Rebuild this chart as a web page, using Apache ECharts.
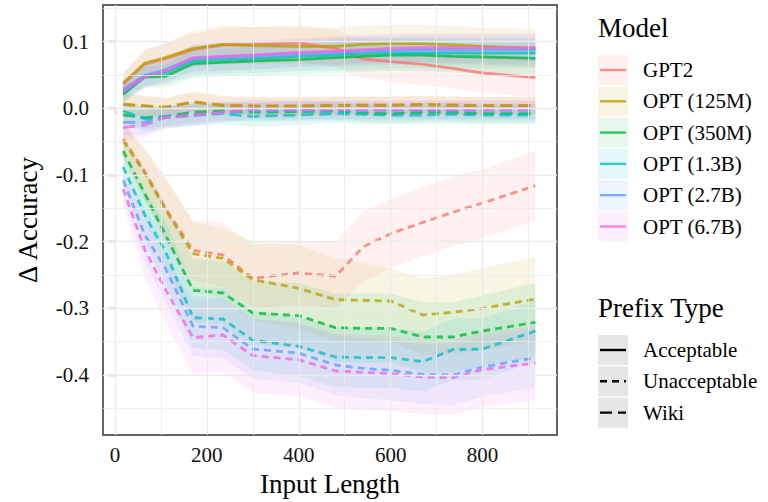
<!DOCTYPE html>
<html>
<head>
<meta charset="utf-8">
<script src="https://cdn.jsdelivr.net/npm/echarts@6/dist/echarts.min.js"></script>
<style>
html,body{margin:0;padding:0;background:#fff;}
#chart{width:768px;height:502px;}
</style>
</head>
<body>
<div id="chart"></div>
<script>
// ---------- data ----------
const inputLength = [18, 65, 110, 170, 235, 300, 400, 480, 540, 600, 670, 735, 800, 915];
const models = ['GPT2', 'OPT (125M)', 'OPT (350M)', 'OPT (1.3B)', 'OPT (2.7B)', 'OPT (6.7B)'];
const prefixTypes = ['Acceptable', 'Unacceptable', 'Wiki'];
const xTicks = [0, 200, 400, 600, 800];
const yTicks = [-0.4, -0.3, -0.2, -0.1, 0.0, 0.1];
const xMinor = [100, 300, 500, 700, 900];
const yMinor = [0.15, 0.05, -0.05, -0.15, -0.25, -0.35, -0.45];

// Acceptable
const accGPT2   = [0.036, 0.066, 0.074, 0.088, 0.095, 0.096, 0.098, 0.090, 0.074, 0.070, 0.066, 0.060, 0.053, 0.046];
const acc125M   = [0.038, 0.068, 0.076, 0.090, 0.096, 0.094, 0.093, 0.093, 0.096, 0.097, 0.097, 0.095, 0.093, 0.090];
const acc350M   = [0.021, 0.047, 0.048, 0.067, 0.069, 0.071, 0.073, 0.076, 0.078, 0.080, 0.080, 0.078, 0.077, 0.075];
const acc1_3B   = [0.024, 0.049, 0.053, 0.071, 0.073, 0.075, 0.078, 0.080, 0.082, 0.083, 0.083, 0.083, 0.083, 0.083];
const acc2_7B   = [0.029, 0.049, 0.058, 0.075, 0.077, 0.079, 0.082, 0.084, 0.086, 0.087, 0.088, 0.088, 0.088, 0.088];
const acc6_7B   = [0.026, 0.047, 0.056, 0.076, 0.078, 0.080, 0.084, 0.086, 0.088, 0.090, 0.091, 0.091, 0.091, 0.091];
const accGPT2Lo = [0.020, 0.045, 0.052, 0.062, 0.068, 0.068, 0.070, 0.062, 0.045, 0.040, 0.035, 0.030, 0.024, 0.016];
const accGPT2Hi = [0.052, 0.088, 0.098, 0.112, 0.120, 0.122, 0.125, 0.118, 0.104, 0.100, 0.097, 0.091, 0.084, 0.078];
const acc125MLo = [0.022, 0.050, 0.054, 0.064, 0.068, 0.066, 0.066, 0.066, 0.068, 0.069, 0.069, 0.067, 0.065, 0.062];
const acc125MHi = [0.054, 0.086, 0.098, 0.116, 0.124, 0.122, 0.121, 0.121, 0.124, 0.125, 0.125, 0.123, 0.121, 0.119];
const acc350MLo = [0.008, 0.031, 0.031, 0.046, 0.048, 0.049, 0.051, 0.053, 0.055, 0.056, 0.056, 0.054, 0.053, 0.051];
const acc350MHi = [0.034, 0.063, 0.065, 0.088, 0.090, 0.093, 0.095, 0.099, 0.101, 0.104, 0.104, 0.102, 0.101, 0.099];
const acc1_3BLo = [0.010, 0.033, 0.036, 0.050, 0.052, 0.053, 0.056, 0.057, 0.059, 0.060, 0.060, 0.060, 0.060, 0.060];
const acc1_3BHi = [0.038, 0.065, 0.070, 0.092, 0.094, 0.097, 0.100, 0.103, 0.105, 0.106, 0.106, 0.106, 0.106, 0.106];
const acc2_7BLo = [0.015, 0.033, 0.041, 0.055, 0.056, 0.058, 0.061, 0.062, 0.064, 0.065, 0.066, 0.066, 0.066, 0.066];
const acc2_7BHi = [0.043, 0.065, 0.075, 0.095, 0.098, 0.100, 0.103, 0.106, 0.108, 0.109, 0.110, 0.110, 0.110, 0.110];
const acc6_7BLo = [0.012, 0.031, 0.039, 0.056, 0.057, 0.059, 0.063, 0.064, 0.066, 0.068, 0.069, 0.069, 0.069, 0.069];
const acc6_7BHi = [0.040, 0.063, 0.073, 0.096, 0.099, 0.101, 0.105, 0.108, 0.110, 0.112, 0.113, 0.113, 0.113, 0.113];

// Unacceptable
const unaGPT2   = [-0.046, -0.095, -0.150, -0.213, -0.220, -0.255, -0.247, -0.252, -0.208, -0.188, -0.171, -0.156, -0.142, -0.116];
const una125M   = [-0.049, -0.097, -0.152, -0.218, -0.225, -0.257, -0.270, -0.287, -0.288, -0.289, -0.310, -0.306, -0.300, -0.286];
const una350M   = [-0.064, -0.128, -0.190, -0.273, -0.277, -0.307, -0.311, -0.329, -0.330, -0.330, -0.343, -0.343, -0.334, -0.321];
const una1_3B   = [-0.088, -0.160, -0.215, -0.314, -0.316, -0.348, -0.357, -0.373, -0.374, -0.374, -0.380, -0.362, -0.361, -0.334];
const una2_7B   = [-0.108, -0.190, -0.240, -0.327, -0.329, -0.361, -0.367, -0.385, -0.390, -0.393, -0.399, -0.400, -0.388, -0.374];
const una6_7B   = [-0.121, -0.212, -0.272, -0.344, -0.340, -0.371, -0.377, -0.394, -0.396, -0.398, -0.403, -0.404, -0.392, -0.382];
const unaGPT2Lo = [-0.070, -0.135, -0.195, -0.258, -0.268, -0.300, -0.295, -0.300, -0.260, -0.240, -0.222, -0.207, -0.195, -0.168];
const unaGPT2Hi = [-0.022, -0.060, -0.105, -0.168, -0.172, -0.205, -0.199, -0.200, -0.156, -0.136, -0.118, -0.103, -0.091, -0.064];
const una125MLo = [-0.075, -0.140, -0.200, -0.275, -0.285, -0.318, -0.330, -0.350, -0.350, -0.350, -0.370, -0.368, -0.362, -0.350];
const una125MHi = [-0.023, -0.062, -0.105, -0.170, -0.180, -0.200, -0.205, -0.225, -0.232, -0.240, -0.255, -0.250, -0.240, -0.222];
const una350MLo = [-0.085, -0.165, -0.235, -0.320, -0.325, -0.355, -0.360, -0.380, -0.382, -0.382, -0.395, -0.395, -0.387, -0.373];
const una350MHi = [-0.043, -0.092, -0.145, -0.226, -0.229, -0.259, -0.262, -0.278, -0.278, -0.278, -0.291, -0.291, -0.281, -0.262];
const una1_3BLo = [-0.110, -0.200, -0.265, -0.360, -0.362, -0.393, -0.402, -0.418, -0.419, -0.419, -0.425, -0.408, -0.407, -0.380];
const una1_3BHi = [-0.066, -0.125, -0.170, -0.268, -0.270, -0.303, -0.312, -0.328, -0.329, -0.329, -0.335, -0.316, -0.315, -0.288];
const una2_7BLo = [-0.130, -0.230, -0.290, -0.372, -0.374, -0.406, -0.412, -0.430, -0.435, -0.438, -0.444, -0.445, -0.433, -0.419];
const una2_7BHi = [-0.086, -0.150, -0.195, -0.282, -0.284, -0.316, -0.322, -0.340, -0.345, -0.348, -0.354, -0.355, -0.343, -0.329];
const una6_7BLo = [-0.145, -0.255, -0.320, -0.398, -0.395, -0.426, -0.432, -0.450, -0.452, -0.454, -0.459, -0.460, -0.448, -0.438];
const una6_7BHi = [-0.097, -0.165, -0.225, -0.290, -0.285, -0.316, -0.322, -0.338, -0.340, -0.342, -0.347, -0.348, -0.336, -0.326];

// Wiki
const wikGPT2   = [0.006, 0.003, 0.002, 0.009, 0.005, 0.004, 0.004, 0.005, 0.004, 0.004, 0.005, 0.004, 0.004, 0.004];
const wik125M   = [0.006, 0.004, 0.001, 0.010, 0.004, 0.003, 0.003, 0.004, 0.005, 0.005, 0.006, 0.005, 0.004, 0.004];
const wik350M   = [-0.010, -0.014, -0.012, -0.006, -0.004, -0.006, -0.005, -0.004, -0.007, -0.008, -0.006, -0.006, -0.008, -0.008];
const wik1_3B   = [-0.004, -0.016, -0.014, -0.010, -0.008, -0.012, -0.010, -0.008, -0.009, -0.010, -0.010, -0.009, -0.010, -0.010];
const wik2_7B   = [-0.021, -0.021, -0.012, -0.011, -0.006, -0.004, -0.003, -0.003, -0.003, -0.003, -0.003, -0.003, -0.003, -0.003];
const wik6_7B   = [-0.029, -0.025, -0.014, -0.010, -0.006, -0.001, -0.002, -0.002, -0.002, -0.002, -0.002, -0.002, -0.002, -0.002];
const wikGPT2Lo = [-0.010, -0.012, -0.012, -0.006, -0.009, -0.009, -0.009, -0.008, -0.009, -0.009, -0.008, -0.009, -0.009, -0.009];
const wikGPT2Hi = [0.022, 0.018, 0.016, 0.024, 0.019, 0.017, 0.017, 0.018, 0.017, 0.017, 0.018, 0.017, 0.017, 0.017];
const wik125MLo = [-0.010, -0.011, -0.013, -0.005, -0.010, -0.010, -0.010, -0.009, -0.008, -0.008, -0.007, -0.008, -0.009, -0.009];
const wik125MHi = [0.022, 0.019, 0.015, 0.025, 0.018, 0.016, 0.016, 0.017, 0.018, 0.018, 0.019, 0.018, 0.017, 0.017];
const wik350MLo = [-0.026, -0.030, -0.027, -0.021, -0.018, -0.020, -0.019, -0.018, -0.021, -0.022, -0.020, -0.020, -0.022, -0.022];
const wik350MHi = [0.006, 0.002, 0.003, 0.009, 0.010, 0.008, 0.009, 0.010, 0.007, 0.006, 0.008, 0.008, 0.006, 0.006];
const wik1_3BLo = [-0.020, -0.034, -0.031, -0.026, -0.024, -0.028, -0.025, -0.022, -0.023, -0.024, -0.024, -0.023, -0.024, -0.024];
const wik1_3BHi = [0.012, 0.002, 0.003, 0.006, 0.008, 0.004, 0.005, 0.006, 0.005, 0.004, 0.004, 0.005, 0.004, 0.004];
const wik2_7BLo = [-0.040, -0.039, -0.028, -0.026, -0.020, -0.018, -0.017, -0.017, -0.017, -0.017, -0.017, -0.017, -0.017, -0.017];
const wik2_7BHi = [-0.002, -0.003, 0.004, 0.004, 0.008, 0.010, 0.011, 0.011, 0.011, 0.011, 0.011, 0.011, 0.011, 0.011];
const wik6_7BLo = [-0.048, -0.043, -0.030, -0.025, -0.020, -0.015, -0.016, -0.016, -0.016, -0.016, -0.016, -0.016, -0.016, -0.016];
const wik6_7BHi = [-0.010, -0.007, 0.002, 0.005, 0.008, 0.013, 0.012, 0.012, 0.012, 0.012, 0.012, 0.012, 0.012, 0.012];

// ---------- styling ----------
const colors = ['#F8766D', '#B79F00', '#00BA38', '#00BFC4', '#619CFF', '#F564E3'];
const FONT = '"Liberation Serif", "Times New Roman", serif';
const dashOf = { 'Acceptable': 'solid', 'Unacceptable': [7, 5], 'Wiki': [12, 6] };

const table = {
  'Acceptable': [
    [accGPT2, accGPT2Lo, accGPT2Hi], [acc125M, acc125MLo, acc125MHi], [acc350M, acc350MLo, acc350MHi],
    [acc1_3B, acc1_3BLo, acc1_3BHi], [acc2_7B, acc2_7BLo, acc2_7BHi], [acc6_7B, acc6_7BLo, acc6_7BHi]],
  'Unacceptable': [
    [unaGPT2, unaGPT2Lo, unaGPT2Hi], [una125M, una125MLo, una125MHi], [una350M, una350MLo, una350MHi],
    [una1_3B, una1_3BLo, una1_3BHi], [una2_7B, una2_7BLo, una2_7BHi], [una6_7B, una6_7BLo, una6_7BHi]],
  'Wiki': [
    [wikGPT2, wikGPT2Lo, wikGPT2Hi], [wik125M, wik125MLo, wik125MHi], [wik350M, wik350MLo, wik350MHi],
    [wik1_3B, wik1_3BLo, wik1_3BHi], [wik2_7B, wik2_7BLo, wik2_7BHi], [wik6_7B, wik6_7BLo, wik6_7BHi]]
};

function hexToRgba(hex, a) {
  const n = parseInt(hex.slice(1), 16);
  return 'rgba(' + ((n >> 16) & 255) + ',' + ((n >> 8) & 255) + ',' + (n & 255) + ',' + a + ')';
}

const series = [];

// grid lines (major + minor) drawn through the axes' scales
const gridLineData = [];
xTicks.forEach(v => gridLineData.push({ xAxis: v, lineStyle: { width: 1.3 } }));
yTicks.forEach(v => gridLineData.push({ yAxis: v, lineStyle: { width: 1.3 } }));
xMinor.forEach(v => gridLineData.push({ xAxis: v, lineStyle: { width: 0.8 } }));
yMinor.forEach(v => gridLineData.push({ yAxis: v, lineStyle: { width: 0.8 } }));
series.push({
  type: 'line', data: [], z: 1, silent: true, showSymbol: false,
  markLine: {
    silent: true, animation: false, symbol: ['none', 'none'], label: { show: false },
    lineStyle: { color: '#EBEBEB', type: 'solid' },
    emphasis: { disabled: true },
    data: gridLineData
  }
});

// ribbons
prefixTypes.forEach(pt => {
  models.forEach((m, mi) => {
    const lo = table[pt][mi][1], hi = table[pt][mi][2];
    series.push({
      type: 'custom', name: m, coordinateSystem: 'cartesian2d', silent: true, z: 2,
      data: inputLength.map((x, i) => [x, lo[i], hi[i]]),
      encode: { x: 0, y: [1, 2] },
      renderItem: function (params, api) {
        if (params.dataIndex !== 0) return null;
        const pts = [];
        for (let i = 0; i < inputLength.length; i++) pts.push(api.coord([inputLength[i], lo[i]]));
        for (let i = inputLength.length - 1; i >= 0; i--) pts.push(api.coord([inputLength[i], hi[i]]));
        return { type: 'polygon', shape: { points: pts }, style: { fill: hexToRgba(colors[mi], 0.10), stroke: null } };
      }
    });
  });
});

// lines
models.forEach((m, mi) => {
  prefixTypes.forEach(pt => {
    const vals = table[pt][mi][0];
    series.push({
      type: 'line', name: m, z: 3, silent: true, showSymbol: false, symbol: 'none',
      data: inputLength.map((x, i) => [x, vals[i]]),
      lineStyle: { color: colors[mi], width: 2.8, type: dashOf[pt], opacity: 0.78, cap: 'butt' },
      emphasis: { disabled: true }
    });
  });
});

// ---------- legend (graphic) ----------
const graphics = [];
const keyX = 598, keyW = 30, keyH = 30, labelX = 643;
graphics.push({ type: 'text', left: keyX, top: 14, style: { text: 'Model', font: '27px ' + FONT, fill: '#000' } });
const modelKeyY = [70, 101.3, 132.6, 163.9, 195.2, 226.5];
models.forEach((m, i) => {
  const cy = modelKeyY[i];
  graphics.push({ type: 'rect', shape: { x: keyX, y: cy - keyH / 2, width: keyW, height: keyH }, style: { fill: hexToRgba(colors[i], 0.10) } });
  graphics.push({ type: 'line', shape: { x1: keyX + 2, y1: cy, x2: keyX + keyW - 2, y2: cy }, style: { stroke: colors[i], lineWidth: 2.4, opacity: 0.8 } });
  graphics.push({ type: 'text', x: labelX, y: cy, style: { text: m, font: '21px ' + FONT, fill: '#000', verticalAlign: 'middle' } });
});
graphics.push({ type: 'text', left: keyX, top: 294, style: { text: 'Prefix Type', font: '27px ' + FONT, fill: '#000' } });
const prefixKeyY = [350, 381.3, 412.6];
prefixTypes.forEach((p, i) => {
  const cy = prefixKeyY[i];
  graphics.push({ type: 'rect', shape: { x: keyX, y: cy - keyH / 2, width: keyW, height: keyH }, style: { fill: '#E6E6E6' } });
  graphics.push({ type: 'line', shape: { x1: keyX + 2, y1: cy, x2: keyX + keyW - 2, y2: cy },
    style: { stroke: '#000', lineWidth: 2.4, lineDash: p === 'Acceptable' ? null : dashOf[p] } });
  graphics.push({ type: 'text', x: labelX, y: cy, style: { text: p, font: '21px ' + FONT, fill: '#000', verticalAlign: 'middle' } });
});

const chart = echarts.init(document.getElementById('chart'), null, { renderer: 'svg' });
chart.setOption({
  animation: false,
  backgroundColor: '#ffffff',
  textStyle: { fontFamily: FONT },
  grid: { left: 103, right: 211, top: 5, bottom: 64, show: true, borderColor: '#333333', borderWidth: 1.5, backgroundColor: '#ffffff', containLabel: false },
  xAxis: {
    type: 'value', min: -26, max: 962,
    axisLine: { show: false },
    axisTick: { show: true, length: 6, lineStyle: { color: '#333333', width: 1.3 }, customValues: xTicks },
    axisLabel: { customValues: xTicks, margin: 9, fontSize: 21, fontFamily: FONT, color: '#111' },
    splitLine: { show: false }, minorSplitLine: { show: false },
    name: 'Input Length', nameLocation: 'middle', nameGap: 35,
    nameTextStyle: { fontSize: 27, fontFamily: FONT, color: '#000' }
  },
  yAxis: {
    type: 'value', min: -0.49, max: 0.155,
    axisLine: { show: false },
    axisTick: { show: true, length: 6, lineStyle: { color: '#333333', width: 1.3 }, customValues: yTicks },
    axisLabel: { customValues: yTicks, margin: 14, fontSize: 21, fontFamily: FONT, color: '#111',
      formatter: v => Number(v).toFixed(1) },
    splitLine: { show: false }, minorSplitLine: { show: false },
    name: 'Δ Accuracy', nameLocation: 'middle', nameGap: 62, nameRotate: 90,
    nameTextStyle: { fontSize: 27, fontFamily: FONT, color: '#000' }
  },
  graphic: graphics,
  series: series
});
</script>
</body>
</html>
